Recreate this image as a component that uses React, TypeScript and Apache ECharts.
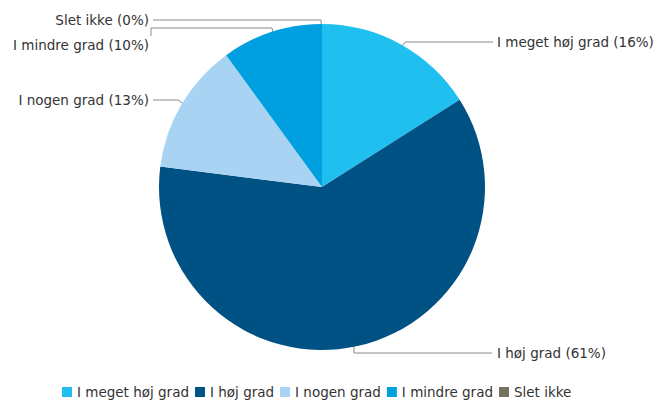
import React, { useEffect, useRef } from "react";
import * as echarts from "echarts";

const categories = ["I meget høj grad", "I høj grad", "I nogen grad", "I mindre grad", "Slet ikke"];
const values = [16, 61, 13, 10, 0];
const colors = ["#1fc0f0", "#005184", "#a9d3f3", "#009fdf", "#77735f"];

// label anchor positions (text position + line elbow)
const labelSpots = [
  { x: 497, y: 42, align: "left", elbow: [405, 42], end: [493, 42] },
  { x: 497, y: 353, align: "left", elbow: [354, 353], end: [492, 353] },
  { x: 149, y: 100, align: "right", elbow: [178, 100], end: [153, 100] },
  { x: 149, y: 45, align: "right", elbow: [272, 28], end: [151, 28] },
  { x: 149, y: 20, align: "right", elbow: [321, 20], end: [153, 20] },
];

export default function App() {
  const ref = useRef<HTMLDivElement>(null);
  useEffect(() => {
    document.body.style.margin = "0";
    const chart = echarts.init(ref.current!, null, { renderer: "svg" });
    const font = "DejaVu Sans, Verdana, sans-serif";
    chart.setOption({
      animation: false,
      color: colors,
      legend: {
        top: 385,
        left: 62,
        padding: 0,
        itemWidth: 10,
        itemHeight: 10,
        itemGap: 6,
        icon: "rect",
        textStyle: { fontFamily: font, fontSize: 13.5, color: "#333" },
        data: categories,
      },
      series: [
        {
          type: "pie",
          center: [322, 187],
          radius: 163,
          startAngle: 90,
          clockwise: true,
          avoidLabelOverlap: false,
          stillShowZeroSum: true,
          itemStyle: { borderWidth: 0 },
          emphasis: { disabled: true },
          label: {
            show: true,
            formatter: (p: any) => `${p.name} (${p.value}%)`,
            fontFamily: font,
            fontSize: 13.5,
            color: "#333",
          },
          labelLine: {
            show: true,
            length: 15,
            length2: 60,
            lineStyle: { color: "#8a8a8a", width: 1 },
          },
          labelLayout: (params: any) => {
            const s = labelSpots[params.dataIndex];
            const pts = params.labelLinePoints || [[0, 0]];
            const p0 = pts[0];
            const cx = 322, cy = 187;
            const dx = p0[0] - cx, dy = p0[1] - cy;
            const len = Math.sqrt(dx * dx + dy * dy) || 1;
            const inner = params.dataIndex === 4 ? [p0[0], p0[1] + 22] : [cx + (dx / len) * 143, cy + (dy / len) * 143];
            let linePts: any[] = [inner, s.elbow, s.end];
            if (params.dataIndex === 3) {
              linePts = [inner, s.elbow, s.end, [151, 36]];
            }
            return {
              x: s.x,
              y: s.y,
              align: s.align,
              verticalAlign: "middle",
              labelLinePoints: linePts,
            };
          },
          data: categories.map((c, i) => ({ name: c, value: values[i] })),
        },
      ],
    });
    return () => chart.dispose();
  }, []);
  return <div ref={ref} style={{ width: 657, height: 402 }} />;
}
